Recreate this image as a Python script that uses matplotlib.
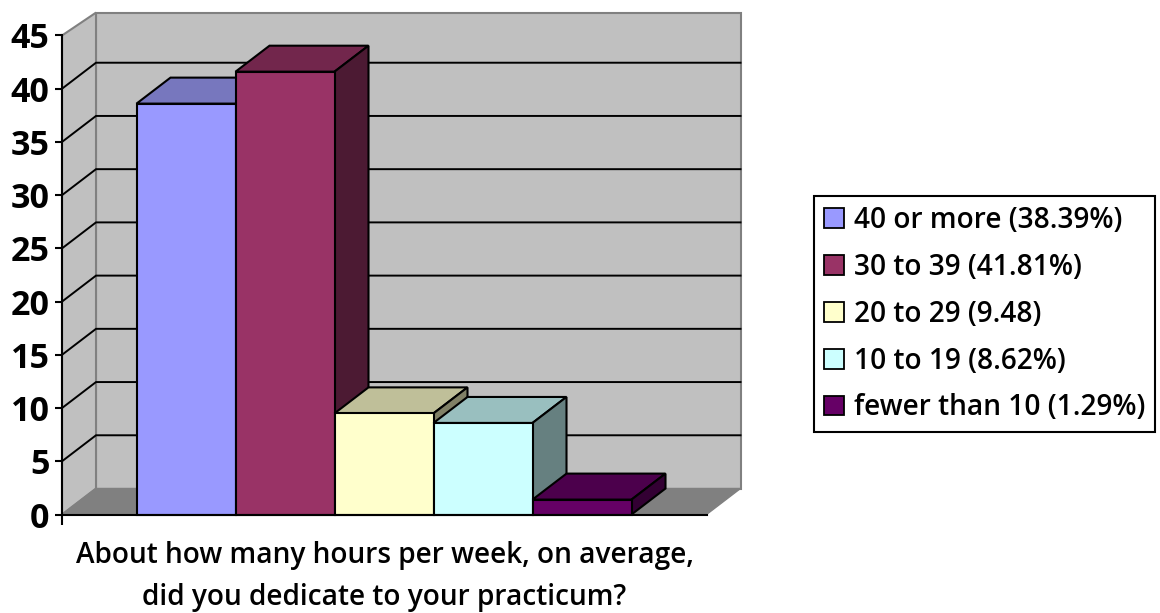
import matplotlib
matplotlib.use("Agg")
import matplotlib.pyplot as plt
from matplotlib.patches import Patch, Polygon

W, H = 1160, 613
labels = ["40 or more (38.39%)", "30 to 39 (41.81%)", "20 to 29 (9.48)",
          "10 to 19 (8.62%)", "fewer than 10 (1.29%)"]
values = [38.6, 41.6, 9.5, 8.6, 1.4]
front_colors = ["#9999FF", "#993366", "#FFFFCC", "#CCFFFF", "#660066"]
top_colors = ["#7777BE", "#72264C", "#BFBF99", "#99BFBF", "#4C004C"]
side_colors = ["#4C4C80", "#4C1A33", "#808066", "#668080", "#330033"]
y_ticks = [0, 5, 10, 15, 20, 25, 30, 35, 40, 45]
xlabel_lines = ["About how many hours per week, on average,",
                "did you dedicate to your practicum?"]

plt.rcParams['font.family'] = ['Open Sans', 'Noto Sans', 'DejaVu Sans']
fig = plt.figure(figsize=(W / 100, H / 100), dpi=100, facecolor="white")

# front plane of the 3-D box
left_px, right_px, zero_px, top_px = 62, 706.5, 514.5, 35.5
ax = fig.add_axes([left_px / W, 1 - zero_px / H, (right_px - left_px) / W, (zero_px - top_px) / H])
unit_x = 99.0
first_left = 136.5
ax.set_xlim(-(first_left - left_px) / unit_x, (right_px - first_left) / unit_x)
ax.set_ylim(0, 45)
ax.patch.set_visible(False)

dx = 34 / unit_x
dy = 26 / ((zero_px - top_px) / 45)
x0, x1 = ax.get_xlim()
wtop = 47.15

def poly(pts, fc, ec="none", lw=0, z=1):
    ax.add_patch(Polygon(pts, closed=True, facecolor=fc, edgecolor=ec, linewidth=lw,
                         zorder=z, clip_on=False, joinstyle="miter"))

wall_grey = "#C0C0C0"
edge_grey = "#808080"
# back wall, left wall, floor
poly([(x0 + dx, dy), (x1 + dx, dy), (x1 + dx, wtop), (x0 + dx, wtop)], wall_grey, edge_grey, 1.5, 1)
poly([(x0, 0), (x0 + dx, dy), (x0 + dx, wtop), (x0, 45)], wall_grey, edge_grey, 1.5, 1)
poly([(x0, 0), (x1, 0), (x1 + dx, dy), (x0 + dx, dy)], "#808080", edge_grey, 1, 1.5)

# gridlines on both walls
for t in y_ticks[1:-1]:
    ax.plot([x0, x0 + dx, x1 + dx], [t, t + dy, t + dy], color="black", lw=1.4,
            zorder=2, clip_on=False, solid_joinstyle="miter")

# bars: top and side faces, then the front face
positions = list(range(len(values)))
for i, (p, v) in enumerate(zip(positions, values)):
    z = 3 + i
    poly([(p, v), (p + 1, v), (p + 1 + dx, v + dy), (p + dx, v + dy)],
         top_colors[i], "black", 1.5, z)
    poly([(p + 1, 0), (p + 1 + dx, dy), (p + 1 + dx, v + dy), (p + 1, v)],
         side_colors[i], "black", 1.5, z)
    ax.bar(p, v, width=1, align="edge", color=front_colors[i], edgecolor="black",
           linewidth=1.5, zorder=z + 0.5, clip_on=False)

for s in ["top", "right"]:
    ax.spines[s].set_visible(False)
for s in ["left", "bottom"]:
    ax.spines[s].set_linewidth(1.5)
    ax.spines[s].set_color("black")
    ax.spines[s].set_zorder(20)
ax.set_yticks(y_ticks)
ax.set_xticks([x0])
ax.set_xticklabels([""])
ax.tick_params(axis="y", length=5, width=1.5, pad=4)
ax.tick_params(axis="x", length=7, width=1.5)
for t in ax.get_yticklabels():
    t.set_fontsize(24.5)
    t.set_fontweight("bold")

for line, y in zip(xlabel_lines, [556, 597]):
    fig.text(384.5 / W, 1 - y / H, line, ha="center", va="center", fontsize=20.2, fontweight=600)

handles = [Patch(facecolor=c, edgecolor="black", linewidth=1.3) for c in front_colors]
leg = fig.legend(handles, labels, loc="upper left",
                 bbox_to_anchor=(813.5 / W, 1 - 196 / H), bbox_transform=fig.transFigure,
                 borderaxespad=0, prop={"size": 20.2, "weight": 600},
                 handlelength=0.71, handleheight=0.71, handletextpad=0.36,
                 labelspacing=0.635, borderpad=0.36, fancybox=False, framealpha=1,
                 edgecolor="black")
leg.get_frame().set_linewidth(1.5)

fig.savefig("out.png", dpi=100, facecolor="white")
